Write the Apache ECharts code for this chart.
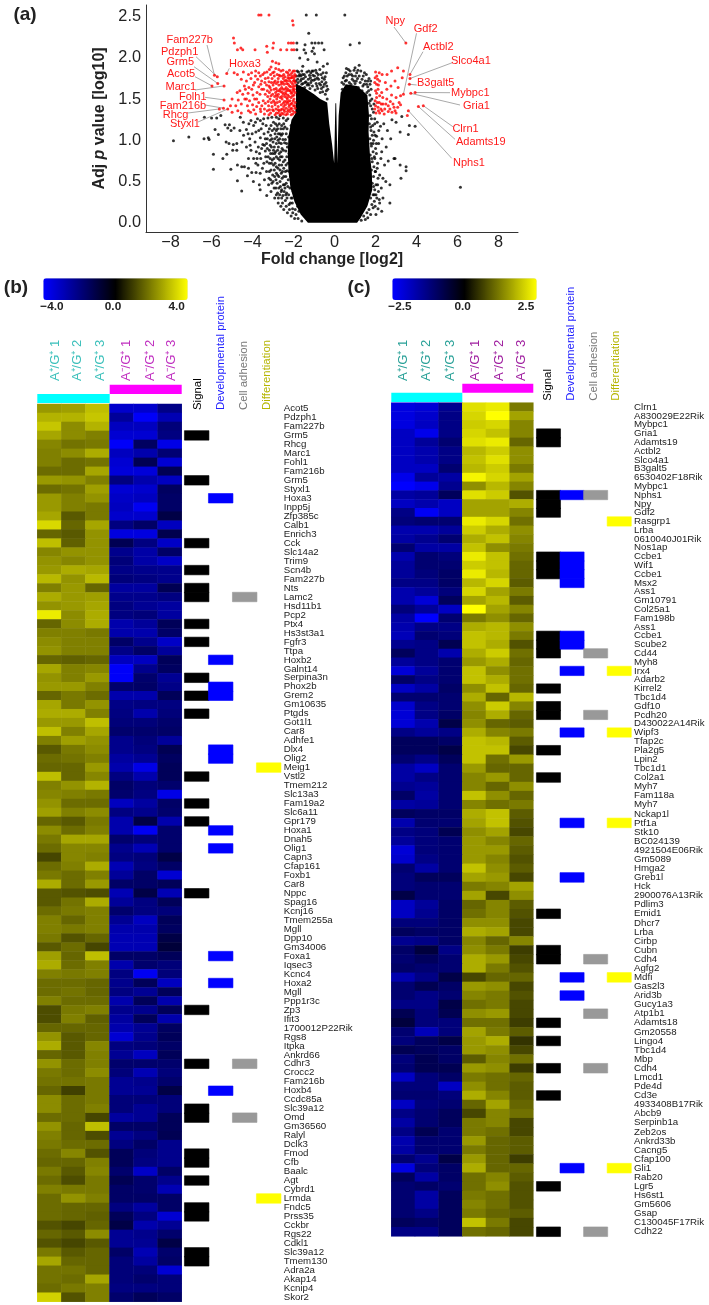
<!DOCTYPE html>
<html>
<head>
<meta charset="utf-8">
<title>Volcano plot and heatmaps</title>
<script src="https://cdn.jsdelivr.net/npm/echarts@6/dist/echarts.min.js"></script>
<style>
html, body { margin: 0; padding: 0; background: #fff; }
#chart { width: 709px; height: 1305px; }
</style>
</head>
<body>
<div id="chart"></div>
<script>
// ---- panel (a) data, [log2 fold change, adj p] ----
const xTicks = [-8, -6, -4, -2, 0, 2, 4, 6, 8];
const yTicks = [0, 0.5, 1, 1.5, 2, 2.5];

// outline of the part of the volcano where the dots merge into solid black
const solidOutline = [[-1.3,0],[-1.65,0.1],[-1.95,0.25],[-2.15,0.42],[-2.25,0.62],[-2.28,0.85],[-2.25,1.05],[-2.1,1.25],[-1.92,1.32],[-1.88,1.5],[-1.88,1.68],[-1.5,1.64],[-1.0,1.56],[-0.7,1.5],[-0.36,1.46],[-0.26,1.2],[-0.12,0.95],[-0.02,0.72],[0.04,1.45],[0.08,1.45],[0.14,0.72],[0.16,0.95],[0.2,1.3],[0.3,1.58],[0.55,1.68],[1.1,1.66],[1.6,1.55],[1.68,1.3],[1.66,1.1],[1.72,0.85],[1.82,0.6],[1.84,0.4],[1.6,0.2],[1.25,0.05],[1.1,0]];

const blackPoints = [
[-1.38,2.52],[-0.89,2.52],[0.5,2.52],[-1.26,2.3],[-1.84,2.18],[-1.44,2.16],[-1.49,2.1],[-1.84,2.1],[-1.11,2.18],[-0.95,2.18],[-1.03,2.12],[-0.62,2.18],[-0.78,2.18],[-1.1,2.08],[-0.98,2.05],[-0.51,2.1],[0.76,2.16],[1.21,2.18],[-1.41,2.06],
[-1.7,2.0],[-1.3,1.98],[-1.55,1.9],[-0.85,1.95],[-0.55,1.9],[-0.35,1.93],[-0.72,1.86],[-0.4,1.82],[-0.6,1.76],[-1.82,1.84],[-1.7,1.8],[-1.6,1.84],[-1.48,1.8],[-1.35,1.83],[-1.22,1.79],[-1.1,1.84],[-0.98,1.78],[-0.88,1.82],[-1.8,1.74],[-1.66,1.72],[-1.52,1.75],[-1.4,1.71],[-1.28,1.74],[-1.16,1.7],[-1.02,1.73],[-0.9,1.69],[-0.78,1.74],[-0.68,1.67],[-0.55,1.65],[-0.42,1.7],[-0.33,1.62],[-1.84,1.67],[-1.72,1.65],[-1.6,1.68],[-1.46,1.64],[-1.34,1.67],[-1.2,1.63],[-1.08,1.66],[-0.95,1.61],[-0.82,1.63],[-0.7,1.58],[-0.58,1.59],[-0.45,1.56],[-0.36,1.5],
[-1.86,1.78],[-1.76,1.83],[-1.64,1.78],[-1.54,1.69],[-1.42,1.77],[-1.3,1.69],[-1.18,1.76],[-1.06,1.79],[-0.94,1.74],[-0.84,1.76],[-0.74,1.69],[-0.62,1.71],[-0.5,1.74],[-0.38,1.66],[-1.78,1.7],[-1.62,1.74],[-1.44,1.7],[-1.24,1.67],[-1.12,1.73],[-0.86,1.66],[-0.64,1.63],[-0.5,1.68],[-0.4,1.6],[-1.9,1.72],[-1.74,1.78],[-1.56,1.8],[-1.26,1.84],[-1.04,1.84],[-0.8,1.8],[-0.56,1.82],[-0.46,1.77],[-1.16,1.82],[-0.92,1.85],[-0.66,1.8],
[0.42,1.76],[0.55,1.82],[0.68,1.86],[0.82,1.8],[0.95,1.85],[1.08,1.82],[1.2,1.91],[1.28,1.84],[1.4,1.78],[1.55,1.8],[1.68,1.75],[0.45,1.68],[0.58,1.73],[0.72,1.7],[0.86,1.74],[1.0,1.69],[1.12,1.75],[1.25,1.7],[1.38,1.66],[1.5,1.72],[1.62,1.65],[1.73,1.68],[0.5,1.6],[0.66,1.64],[0.9,1.63],[1.16,1.64],[1.34,1.6],[1.58,1.58],[1.72,1.55],
[0.36,1.7],[0.48,1.78],[0.62,1.78],[0.76,1.84],[0.88,1.78],[1.02,1.78],[1.14,1.85],[1.34,1.74],[1.46,1.82],[1.62,1.72],[0.38,1.62],[0.52,1.72],[0.8,1.68],[0.94,1.72],[1.06,1.72],[1.2,1.78],[1.44,1.68],[1.56,1.68],[1.66,1.6],[0.7,1.8],[1.0,1.88],[0.58,1.87],[1.78,1.62],[1.76,1.72],
[1.76,1.42],[1.68,1.45],[1.74,1.3],[1.7,1.2],[1.78,1.12],[1.72,1.02],[1.8,0.93],[1.74,0.82],[1.84,0.74],[1.8,0.64],[1.9,0.56],[1.84,0.48],[1.96,0.4],[1.88,0.34],[1.76,0.3],[1.94,0.26],[1.82,0.22],[1.68,0.16],[1.58,0.12],[1.42,0.08],[1.3,0.03],[1.22,0.08],
[1.82,1.5],[1.74,1.48],[1.84,1.38],[1.8,1.26],[1.86,1.18],[1.76,1.16],[1.84,1.06],[1.9,1.0],[1.78,0.96],[1.88,0.86],[1.94,0.8],[1.82,0.78],[1.92,0.68],[1.98,0.62],[1.9,0.44],[2.02,0.46],[1.94,0.34],[2.06,0.3],[1.88,0.18],[1.98,0.2],[1.76,0.1],[1.62,0.06],[1.5,0.04],[1.9,1.34],[1.96,1.2],[1.98,1.06],[2.04,0.96],[2.04,0.84],[2.08,0.66],[2.12,0.54],[2.14,0.38],[2.2,0.24],[1.92,1.44],
[1.96,1.26],[2.08,1.22],[2.24,1.17],[2.4,1.2],[2.58,1.12],[1.92,1.1],[2.05,1.05],[2.16,1.12],[2.32,1.02],[1.88,0.96],[2.0,0.9],[2.15,0.96],[2.3,0.86],[2.52,0.92],[2.74,1.02],[1.96,0.78],[2.1,0.72],[2.26,0.78],[2.44,0.7],[2.62,0.75],[2.9,0.78],[3.2,0.7],[3.49,0.68],[3.49,0.63],[2.0,0.62],[2.2,0.58],[2.36,0.54],[2.1,0.46],[2.28,0.42],[2.5,0.5],[2.7,0.46],[3.24,0.54],[2.02,0.34],[2.18,0.28],[2.36,0.3],[2.7,0.24],[2.12,0.17],[2.3,0.14],[2.02,0.1],[3.28,1.29],[3.93,1.17],[3.65,1.18],[3.6,1.07],[3.2,1.1],[2.95,0.78],[3.0,1.22],[2.8,1.25],[6.14,0.43],
[-7.86,0.995],[-7.11,1.04],[-6.37,1.02],[-6.16,1.03],[-6.12,1.01],[-5.91,0.83],[-5.91,0.65],[-5.83,1.13],[-5.67,1.07],[-5.45,0.78],[-5.26,0.83],[-5.29,0.98],[-5.15,0.96],[-5.34,1.19],[-5.13,1.19],[-5.21,1.15],[-5.05,1.12],[-4.9,1.15],[-4.94,0.95],[-4.77,0.96],[-4.97,0.88],[-4.77,0.88],[-5.06,0.65],[-4.74,0.51],[-4.53,0.385],[-4.74,0.7],[-4.53,0.68],[-4.4,0.68],[-4.2,0.66],[-4.25,0.57],[-3.96,0.5],[-4.04,0.61],[-3.83,0.61],[-3.63,0.6],[-3.67,0.46],[-3.63,0.4],[-3.31,0.33],[-6.0,1.27],[-5.75,1.27],[-5.55,1.3],[-6.35,1.28],
[-4.6,1.28],[-4.45,1.22],[-4.62,1.12],[-4.44,1.06],[-4.3,1.13],[-4.52,0.98],[-4.3,0.92],[-4.14,1.02],[-4.08,1.24],[-3.95,1.18],[-4.02,1.08],[-3.88,0.98],[-4.08,0.88],[-3.95,0.78],[-3.82,0.86],[-3.76,1.26],[-3.7,1.12],[-3.62,1.03],[-3.72,0.92],[-3.6,0.78],[-3.74,0.7],[-3.5,1.2],[-3.44,1.08],[-3.5,0.95],[-3.38,0.87],[-3.45,0.72],[-3.32,0.62],[-3.42,0.52],[-3.22,0.46],[-3.1,0.38],[-2.92,0.3],[-2.75,0.24],[-2.62,0.2],[-2.48,0.16],[-2.3,0.12],[-2.12,0.08],[-1.95,0.05],[-1.78,0.05],[-1.6,0.02],[-2.05,0.17],[-2.22,0.22],[-2.4,0.27],[-2.58,0.3],[-2.78,0.36],[-2.95,0.42],[-3.12,0.52],
[-3.25,1.27],[-3.18,1.14],[-3.28,1.02],[-3.14,0.94],[-3.24,0.8],[-3.08,0.72],[-3.18,0.62],[-3.02,0.58],[-2.98,1.22],[-2.9,1.08],[-3.0,0.98],[-2.88,0.86],[-2.96,0.78],[-2.84,0.68],[-2.92,0.56],[-2.8,0.48],[-2.72,1.26],[-2.78,1.14],[-2.68,1.02],[-2.74,0.92],[-2.64,0.8],[-2.7,0.7],[-2.6,0.6],[-2.66,0.5],[-2.58,0.4],[-2.48,1.2],[-2.54,1.08],[-2.44,0.97],[-2.5,0.88],[-2.42,0.76],[-2.48,0.66],[-2.38,0.56],[-2.44,0.46],[-2.34,0.36],[-2.28,1.26],[-2.32,1.14],[-2.24,1.04],[-2.3,0.92],[-2.22,0.84],[-2.28,0.72],[-2.2,0.62],[-2.26,0.52],[-2.18,0.42],[-2.12,0.3],[-2.12,1.18],[-2.08,1.08],[-2.14,0.98],[-2.08,0.88],[-2.12,0.78],[-2.1,0.66],[-2.14,0.56],
[-2.36,1.24],[-2.42,1.16],[-2.36,1.08],[-2.4,1.01],[-2.34,0.96],[-2.38,0.87],[-2.33,0.8],[-2.37,0.7],[-2.32,0.63],[-2.36,0.48],[-2.28,0.44],[-2.24,0.34],[-2.32,0.3],[-2.16,0.24],[-2.06,0.24],[-2.5,1.27],[-2.58,1.18],[-2.5,1.14],[-2.6,1.06],[-2.52,1.01],[-2.6,0.96],[-2.56,0.9],[-2.62,0.86],[-2.56,0.8],[-2.5,0.74],[-2.58,0.7],[-2.54,0.62],[-2.48,0.56],[-2.56,0.54],[-2.5,0.46],[-2.46,0.38],[-2.52,0.33],[-2.38,0.34],[-2.66,1.3],[-2.7,1.2],[-2.62,1.14],[-2.74,1.08],[-2.66,1.08],[-2.76,1.0],[-2.7,0.97],[-2.78,0.88],[-2.7,0.84],[-2.76,0.78],[-2.68,0.76],[-2.76,0.66],[-2.66,0.64],[-2.72,0.56],[-2.78,0.58],[-2.64,0.44],[-2.72,0.42],[-2.68,0.34],
[-2.84,1.28],[-2.88,1.2],[-2.8,1.18],[-2.84,1.12],[-2.94,1.14],[-2.82,1.04],[-2.92,1.02],[-2.84,0.96],[-2.94,0.92],[-2.84,0.8],[-2.92,0.84],[-2.98,0.88],[-2.9,0.72],[-2.98,0.7],[-2.84,0.6],[-2.94,0.64],[-2.86,0.52],[-3.0,0.5],[-2.86,0.42],[-2.84,0.34],[-3.06,1.28],[-3.1,1.18],[-3.04,1.12],[-3.12,1.06],[-3.06,1.02],[-3.14,1.0],[-3.08,0.92],[-3.02,0.84],[-3.12,0.84],[-3.18,0.88],[-3.04,0.76],[-3.14,0.78],[-3.1,0.64],[-3.06,0.48],[-3.18,0.72],[-3.28,0.9],[-3.24,1.1],[-3.34,1.18],[-3.38,1.02],[-3.32,0.96],[-3.3,0.74],[-3.2,0.54],[-3.36,0.8],[-3.42,0.94],[-3.46,1.26],[-3.58,1.14],[-3.56,0.9],[-3.52,0.66],[-3.62,1.24],[-3.84,1.1],[-3.86,1.22],[-3.66,0.84],[-3.78,0.78],[-3.84,0.72],[-4.18,1.2],[-4.22,1.08],[-4.12,0.94],[-4.2,0.78],
[-2.06,0.3],[-2.02,0.38],[-2.4,0.62],[-2.42,0.42],[-2.6,0.38],[-2.74,0.3],[-2.54,0.24],[-2.36,0.2],[-2.2,0.16],[-2.04,0.12],[-1.88,0.1],[-1.74,0.14],[-1.8,0.2],[-1.92,0.16]
];

const redPoints = [
[-3.7,2.52],[-3.59,2.52],[-3.2,2.52],[-2.05,2.45],[-2.02,2.4],[-4.93,2.24],[-4.89,2.18],[-4.74,2.1],[-4.57,2.12],[-4.48,2.1],[-3.88,2.1],[-3.31,2.14],[-3.28,2.07],[-2.98,2.18],[-3.01,2.12],[-2.63,2.1],[-2.25,2.18],[-2.01,2.18],[-2.12,2.18],[-2.33,2.1],[-2.09,2.1],[-1.98,2.1],
[-3.03,1.96],[-2.86,1.94],[-3.1,1.89],[-2.87,1.87],[-2.72,1.93],[-4.9,1.82],[-4.74,1.8],[-4.45,1.83],[-4.2,1.8],[-3.85,1.84],[-3.7,1.82],[-3.5,1.8],[-3.3,1.83],[-3.12,1.8],[-2.95,1.83],[-2.8,1.8],[-2.62,1.84],[-2.48,1.8],[-2.35,1.83],[-2.2,1.85],[-2.08,1.82],[-1.95,1.84],
[-4.55,1.74],[-4.3,1.72],[-4.08,1.75],[-3.9,1.7],[-3.75,1.74],[-3.56,1.72],[-3.38,1.75],[-3.2,1.71],[-3.05,1.75],[-2.9,1.72],[-2.75,1.75],[-2.6,1.71],[-2.5,1.75],[-2.38,1.73],[-2.28,1.76],[-2.18,1.72],[-2.08,1.76],[-1.97,1.73],[-1.92,1.78],
[-4.4,1.66],[-4.18,1.64],[-3.96,1.67],[-3.7,1.65],[-3.55,1.62],[-3.32,1.67],[-3.15,1.64],[-3.0,1.67],[-2.85,1.63],[-2.72,1.67],[-2.58,1.64],[-2.46,1.68],[-2.36,1.64],[-2.26,1.68],[-2.14,1.65],[-2.04,1.68],[-1.94,1.66],[-1.92,1.7],[-2.2,1.6],[-2.32,1.6],
[-4.75,1.58],[-4.48,1.56],[-4.22,1.57],[-3.98,1.55],[-3.78,1.58],[-3.18,1.58],[-3.02,1.56],[-2.88,1.58],[-2.74,1.56],[-2.62,1.59],[-2.5,1.56],[-2.4,1.58],[-2.12,1.57],[-2.0,1.6],[-1.93,1.58],[-2.05,1.54],[-2.22,1.53],[-2.34,1.52],
[-5.0,1.5],[-4.7,1.49],[-4.55,1.44],[-4.38,1.5],[-4.15,1.48],[-3.9,1.5],[-3.7,1.46],[-3.15,1.5],[-2.98,1.48],[-2.82,1.5],[-2.68,1.47],[-2.56,1.5],[-2.45,1.47],[-2.3,1.45],[-2.18,1.48],[-2.08,1.45],[-1.98,1.5],[-1.93,1.46],[-2.6,1.43],[-2.75,1.41],
[-5.08,1.42],[-4.82,1.42],[-4.25,1.42],[-4.0,1.43],[-3.8,1.41],[-3.55,1.42],[-3.38,1.45],[-3.22,1.42],[-3.05,1.41],[-2.9,1.43],[-2.48,1.41],[-2.36,1.39],[-2.22,1.41],[-2.1,1.39],[-2.0,1.42],[-1.93,1.39],
[-5.0,1.34],[-4.55,1.33],[-4.1,1.34],[-3.85,1.32],[-3.6,1.35],[-3.42,1.32],[-3.28,1.36],[-3.12,1.33],[-2.98,1.36],[-2.84,1.33],[-2.7,1.36],[-2.58,1.33],[-2.44,1.35],[-2.3,1.32],[-2.18,1.35],[-2.04,1.32],[-1.94,1.34],[-2.12,1.31],[-2.38,1.31],[-2.64,1.31],[-2.9,1.31],[-3.2,1.31],[-1.98,1.55],[-2.03,1.62],[-2.15,1.8],[-2.25,1.79],[-2.42,1.77],[-2.55,1.78],[-2.7,1.79],[-2.28,1.55],[-2.42,1.62],[-2.52,1.62],[-2.65,1.52],[-2.78,1.53],[-2.92,1.53],[-2.3,1.5],[-2.12,1.52],[-2.55,1.38],[-2.75,1.37],[-2.25,1.37],[-2.12,1.44],[-2.4,1.43],[-1.98,1.76],[-2.1,1.7],[-2.22,1.75],[-2.34,1.69],[-2.44,1.72],[-2.6,1.68],[-2.76,1.71],[-2.05,1.78],[-2.2,1.66],[-2.0,1.72],
[-3.4,1.7],[-3.62,1.78],[-3.24,1.76],[-3.08,1.7],[-2.94,1.78],[-2.84,1.69],[-2.66,1.78],[-2.54,1.7],[-2.3,1.72],[-3.46,1.62],[-3.28,1.6],[-3.1,1.61],[-2.95,1.62],[-2.8,1.6],[-2.66,1.62],[-2.54,1.58],[-2.44,1.53],[-2.36,1.47],[-2.5,1.45],[-2.2,1.43],[-2.02,1.48],[-2.14,1.38],[-2.04,1.36],[-1.96,1.42],[-2.3,1.35],[-2.46,1.37],[-2.62,1.37],[-2.8,1.46],[-2.92,1.46],[-3.08,1.46],[-3.24,1.47],[-3.48,1.48],[-3.42,1.38],[-3.18,1.37],[-3.02,1.37],[-2.86,1.38],[-2.74,1.33],[-2.5,1.32],[-2.26,1.47],[-2.16,1.6],[-2.08,1.58],[-1.96,1.62],[-2.02,1.65],[-2.28,1.62],[-2.38,1.56],[-2.58,1.53],[-2.7,1.6],[-2.84,1.55],[-3.1,1.54],[-3.26,1.53],[-2.96,1.7],[-3.2,1.66],[-3.38,1.56],[-3.64,1.56],[-3.8,1.5],[-4.04,1.62],[-4.3,1.5],[-4.35,1.62],[-3.62,1.38],[-3.94,1.37],[-4.2,1.36],[-4.72,1.36],[-4.62,1.6],[-4.05,1.82],[-3.6,1.68],[-3.86,1.78],[-3.42,1.82],[-3.18,1.86],[-3.02,1.82],[-2.72,1.86],[-2.52,1.85],[-2.28,1.82],[-2.14,1.76],[-1.94,1.8],[-2.02,1.84],
[2.0,1.83],[2.18,1.82],[2.32,1.8],[2.56,1.8],[2.78,1.84],[3.08,1.88],[3.36,1.84],[1.98,1.76],[2.1,1.74],[2.05,1.68],[2.2,1.72],[2.48,1.7],[2.95,1.72],[3.3,1.76],[2.0,1.6],[2.12,1.62],[2.3,1.58],[2.55,1.62],[2.75,1.66],[3.1,1.64],[2.05,1.52],[2.18,1.46],[2.35,1.52],[2.55,1.5],[2.78,1.55],[3.0,1.52],[3.22,1.54],[2.0,1.42],[2.12,1.4],[2.28,1.44],[2.45,1.38],[2.62,1.42],[2.85,1.44],[3.08,1.4],[3.22,1.43],[2.02,1.33],[2.2,1.33],[2.42,1.32],[2.62,1.35],[2.95,1.36],[3.15,1.46],[3.0,1.33],[3.55,1.3],[2.72,1.47],[1.98,1.48],[2.32,1.36],[2.5,1.44],
[2.06,1.78],[2.14,1.67],[1.96,1.7],[2.08,1.46],[2.2,1.54],[2.14,1.36],[2.36,1.44],[2.26,1.38],[1.96,1.38],[2.05,1.57],[2.7,1.38],[2.9,1.4],[2.8,1.34]
];

const calloutGenes = ['Fam227b', 'Pdzph1', 'Grm5', 'Acot5', 'Marc1', 'Folh1', 'Fam216b', 'Rhcg', 'Styxl1', 'Hoxa3', 'Npy', 'Gdf2', 'Actbl2', 'Slco4a1', 'B3galt5', 'Mybpc1', 'Gria1', 'Clrn1', 'Adamts19', 'Nphs1'];
const calloutFc = [-5.86, -5.72, -5.7, -5.98, -5.39, -5.39, -5.42, -5.62, -5.21, -5.26, 3.48, 3.36, 3.68, 3.68, 3.65, 3.93, 3.72, 4.33, 4.09, 3.6];
const calloutP = [1.79, 1.77, 1.69, 1.66, 1.66, 1.49, 1.39, 1.38, 1.38, 1.81, 2.18, 1.56, 1.8, 1.75, 1.68, 1.58, 1.57, 1.42, 1.41, 1.36];

// ---- panel (b) data ----
const genesB = ['Acot5','Pdzph1','Fam227b','Grm5','Rhcg','Marc1','Fohl1','Fam216b','Grm5','Styxl1','Hoxa3','Inpp5j','Zfp385c','Calb1','Enrich3','Cck','Slc14a2','Trim9','Scn4b','Fam227b','Nts','Lamc2','Hsd11b1','Pcp2','Ptx4','Hs3st3a1','Fgfr3','Ttpa','Hoxb2','Galnt14','Serpina3n','Phox2b','Grem2','Gm10635','Ptgds','Got1l1','Car8','Adhfe1','Dlx4','Olig2','Meig1','Vstl2','Tmem212','Slc13a3','Fam19a2','Slc6a11','Gpr179','Hoxa1','Dnah5','Olig1','Capn3','Cfap161','Foxb1','Car8','Nppc','Spag16','Kcnj16','Tmem255a','Mgll','Dpp10','Gm34006','Foxa1','Iqsec3','Kcnc4','Hoxa2','Mgll','Ppp1r3c','Zp3','Ifit3','1700012P22Rik','Rgs8','Itpka','Ankrd66','Cdhr3','Crocc2','Fam216b','Hoxb4','Ccdc85a','Slc39a12','Omd','Gm36560','Ralyl','Dclk3','Fmod','Cfb','Baalc','Agt','Cybrd1','Lrmda','Fndc5','Prss35','Cckbr','Rgs22','Cdkl1','Slc39a12','Tmem130','Adra2a','Akap14','Kcnip4','Skor2'];
const heatB = [
[2.4,2.5,3.0,-3.2,-3.2,-2.1],[2.8,2.8,3.1,-2.4,-3.9,-2.8],[3.1,2.2,2.8,-3.0,-3.0,-1.9],[2.6,2.2,2.0,-3.3,-3.3,-2.0],[2.1,1.8,1.9,-3.9,-1.5,-3.6],[2.0,2.2,2.7,-3.0,-2.7,-1.8],[2.0,1.7,1.8,-3.3,-1.3,-3.3],[1.7,1.7,2.6,-3.4,-3.4,-1.3],[2.4,2.3,2.0,-2.0,-2.7,-3.0],[1.7,1.8,2.5,-3.3,-3.2,-1.5],
[2.4,2.0,2.3,-3.1,-3.0,-1.6],[2.4,2.0,1.9,-3.0,-3.8,-1.6],[2.6,1.4,1.9,-3.2,-3.2,-1.1],[3.4,1.6,2.6,-2.0,-1.6,-3.0],[1.6,1.4,2.3,-3.5,-3.5,-1.2],[3.0,1.5,2.3,-1.3,-2.0,-3.1],[2.1,2.3,2.3,-2.2,-2.6,-1.6],[2.3,2.1,2.3,-1.9,-2.6,-3.1],[2.4,2.7,2.6,-2.1,-2.2,-2.2],[2.9,2.3,2.9,-1.9,-2.0,-2.2],
[2.0,2.4,1.6,-2.5,-2.5,-1.3],[2.7,2.4,2.5,-2.2,-2.2,-2.0],[2.3,2.4,2.6,-2.0,-2.3,-2.5],[3.7,2.2,2.7,-2.0,-1.9,-2.5],[1.6,2.2,2.7,-2.7,-2.4,-1.4],[2.0,2.0,1.9,-2.7,-2.7,-1.6],[2.2,2.0,2.0,-1.6,-2.2,-3.1],[2.3,2.0,2.0,-2.1,-1.6,-2.4],[1.6,1.5,1.6,-3.0,-3.0,-1.4],[2.6,2.0,2.1,-3.9,-2.2,-1.5],
[2.3,2.0,2.4,-3.9,-1.7,-2.3],[2.4,2.4,2.0,-1.7,-1.6,-2.1],[1.6,1.9,1.7,-2.7,-2.7,-1.4],[2.6,1.9,2.3,-2.1,-2.0,-2.0],[2.7,2.7,2.0,-2.0,-2.7,-1.9],[2.4,2.4,3.0,-1.9,-1.9,-1.7],[3.0,2.0,2.6,-1.7,-1.7,-1.6],[2.0,2.5,2.3,-2.2,-1.9,-2.4],[1.4,1.9,2.2,-2.2,-2.0,-1.3],[1.7,1.8,2.0,-2.5,-2.3,-1.5],
[1.6,1.6,2.4,-2.7,-3.6,-1.4],[3.0,1.6,2.1,-2.0,-2.7,-1.4],[2.0,2.3,2.8,-1.6,-1.9,-1.7],[2.1,2.0,1.9,-1.7,-2.0,-3.6],[2.3,1.7,1.7,-3.0,-2.5,-1.6],[2.5,2.0,2.2,-2.0,-2.2,-1.7],[1.6,1.4,1.9,-2.7,-1.1,-2.7],[2.2,1.7,2.0,-2.7,-3.8,-1.7],[1.9,2.6,2.6,-1.7,-1.9,-1.7],[1.7,2.1,2.1,-2.2,-2.8,-1.7],
[1.1,2.1,2.0,-2.0,-1.9,-1.1],[1.7,2.0,2.7,-2.8,-2.0,-1.6],[1.9,1.7,2.0,-2.4,-1.6,-3.3],[2.7,1.7,2.4,-1.6,-1.6,-1.4],[1.4,1.3,1.2,-2.8,-1.1,-2.8],[1.4,1.8,2.7,-2.4,-2.0,-1.4],[1.7,1.9,2.0,-1.7,-2.0,-1.9],[2.0,1.6,2.0,-2.3,-3.0,-1.4],[2.0,1.9,2.0,-2.7,-2.7,-1.5],[1.9,1.3,1.6,-2.8,-2.8,-1.1],
[1.4,1.7,1.1,-2.8,-2.8,-0.9],[2.5,1.6,3.0,-1.6,-1.6,-1.4],[2.7,1.7,2.0,-2.7,-1.7,-1.9],[2.0,1.9,2.0,-2.0,-3.8,-1.9],[1.7,1.7,1.6,-2.2,-1.4,-3.0],[1.7,1.8,1.6,-2.0,-2.3,-1.4],[2.0,1.7,1.7,-2.7,-1.4,-2.7],[1.2,1.9,2.0,-2.2,-2.2,-1.4],[1.2,2.0,1.5,-2.5,-1.4,-2.7],[1.6,1.6,1.6,-2.7,-2.3,-1.5],
[2.3,1.4,1.6,-3.3,-2.2,-1.4],[2.7,1.4,2.1,-2.0,-1.9,-1.6],[1.6,1.4,2.0,-2.3,-3.0,-1.4],[2.3,1.7,2.0,-1.7,-1.7,-1.7],[1.9,1.7,2.2,-1.9,-2.8,-1.9],[1.8,1.8,1.9,-2.3,-2.2,-1.7],[1.6,1.0,1.9,-2.3,-2.3,-1.1],[2.2,1.7,1.9,-1.9,-1.9,-1.9],[2.2,1.7,2.0,-1.9,-2.3,-1.9],[1.7,1.7,1.1,-2.5,-2.3,-1.4],
[2.3,1.6,3.0,-1.6,-1.6,-1.4],[2.0,1.6,1.2,-2.3,-2.0,-1.3],[1.9,1.7,1.7,-2.0,-1.6,-2.2],[1.7,2.1,1.3,-1.4,-1.9,-2.2],[1.6,1.6,2.0,-1.4,-2.0,-2.2],[1.9,1.4,2.1,-1.7,-3.1,-1.6],[1.7,1.2,1.9,-1.3,-1.7,-2.2],[2.0,1.9,1.9,-1.6,-1.7,-2.8],[1.7,2.3,2.0,-1.6,-1.6,-1.6],[1.7,1.6,1.6,-2.0,-2.5,-1.6],
[1.7,1.6,1.5,-1.4,-2.0,-3.3],[1.3,1.1,1.6,-1.1,-2.7,-2.3],[1.6,1.4,2.2,-2.3,-2.2,-1.7],[1.3,1.1,1.4,-2.3,-2.3,-1.1],[1.9,1.4,1.6,-1.6,-2.8,-1.7],[2.6,1.6,1.6,-1.9,-2.5,-1.6],[1.8,1.8,1.6,-1.9,-1.9,-3.3],[1.8,1.7,2.6,-1.9,-1.7,-1.9],[1.7,1.9,2.0,-2.0,-2.0,-1.9],[3.3,1.3,2.0,-1.7,-1.4,-1.6]
];
const signalB = [3, 8, 15, 18, 20, 21, 24, 26, 30, 32, 34, 41, 44, 46, 54, 67, 73, 78, 79, 83, 84, 86, 89, 90, 94, 95];
const devProteinB = [10, 28, 31, 32, 38, 39, 47, 49, 61, 64, 76];
const cellAdhesionB = [21, 73, 79];
const differentiationB = [40, 88];

// ---- panel (c) data ----
const genesC = ['Clrn1','A830029E22Rik','Mybpc1','Gria1','Adamts19','Actbl2','Slco4a1','B3galt5','6530402F18Rik','Mybpc1','Nphs1','Npy','Gdf2','Rasgrp1','Lrba','0610040J01Rik','Nos1ap','Ccbe1','Wif1','Ccbe1','Msx2','Ass1','Gm10791','Col25a1','Fam198b','Ass1','Ccbe1','Scube2','Cd44','Myh8','Irx4','Adarb2','Kirrel2','Tbc1d4','Gdf10','Pcdh20','D430022A14Rik','Wipf3','Tfap2c','Pla2g5','Lpin2','Tbc1d1','Col2a1','Myh7','Fam118a','Myh7','Nckap1l','Ptf1a','Stk10','BC024139','4921504E06Rik','Gm5089','Hmga2','Greb1l','Hck','2900076A13Rik','Pdlim3','Emid1','Dhcr7','Lrba','Cirbp','Cubn','Cdh4','Agfg2','Mdfi','Gas2l3','Arid3b','Gucy1a3','Atp1b1','Adamts18','Gm20558','Lingo4','Tbc1d4','Mbp','Cdh4','Lmcd1','Pde4d','Cd3e','4933408B17Rik','Abcb9','Serpinb1a','Zeb2os','Ankrd33b','Cacng5','Cfap100','Gli1','Rab20','Lgr5','Hs6st1','Gm5606','Gsap','C130045F17Rik','Cdh22'];
const heatC = [
[-2.2,-2.1,-1.4,2.2,2.3,1.2],[-2.2,-2.0,-1.3,2.1,2.5,1.6],[-2.2,-1.9,-1.3,2.0,2.1,1.3],[-1.9,-2.3,-1.3,2.1,1.9,1.3],[-1.9,-1.5,-1.1,2.2,2.3,1.0],[-1.9,-1.7,-1.3,1.8,2.0,1.4],[-1.9,-1.7,-1.3,1.9,2.2,1.4],[-1.9,-1.9,-1.1,1.8,2.0,1.2],[-2.3,-1.5,-1.6,2.4,2.1,1.6],[-2.5,-2.3,-1.4,1.4,1.8,1.3],
[-1.6,-1.5,-0.9,2.2,2.0,0.8],[-1.9,-1.7,-1.9,1.6,1.6,1.7],[-1.3,-2.4,-1.9,1.6,1.6,1.3],[-1.2,-1.1,-1.1,2.3,2.1,1.1],[-1.7,-1.7,-1.5,2.0,1.7,1.4],[-1.6,-1.4,-1.1,1.7,1.9,1.3],[-1.1,-1.6,-1.6,1.9,1.4,1.2],[-1.7,-1.1,-1.2,2.3,1.9,1.1],[-1.5,-1.1,-1.1,2.0,1.9,1.0],[-1.5,-1.2,-1.0,2.3,1.8,1.0],
[-1.3,-1.3,-1.0,1.8,2.1,0.9],[-1.7,-1.5,-1.2,2.1,1.6,1.2],[-1.7,-2.1,-0.9,1.6,1.8,0.9],[-1.2,-1.5,-1.9,2.5,1.6,1.3],[-1.6,-2.5,-1.1,1.2,1.4,1.0],[-1.7,-1.3,-1.3,1.7,1.8,1.4],[-1.8,-1.1,-1.2,1.9,1.8,1.2],[-1.4,-1.3,-0.8,1.9,1.7,0.8],[-0.9,-1.3,-1.7,1.7,2.0,1.1],[-1.5,-1.3,-1.1,1.5,1.7,1.0],
[-2.1,-1.5,-1.1,1.9,1.4,1.1],[-1.0,-1.3,-1.1,1.9,1.7,1.1],[-1.9,-1.6,-1.0,1.4,1.9,1.0],[-1.1,-1.1,-1.1,1.7,1.0,1.8],[-2.0,-1.3,-1.1,1.4,2.0,1.3],[-2.1,-1.3,-1.0,1.3,1.7,1.0],[-2.1,-1.7,-0.7,1.4,1.0,0.9],[-1.3,-1.5,-1.3,1.7,1.3,1.2],[-0.9,-0.9,-1.0,1.9,1.8,0.9],[-0.9,-0.9,-0.7,1.9,1.9,0.7],
[-1.1,-1.3,-0.9,1.9,1.1,1.5],[-1.6,-1.9,-1.1,1.5,1.0,1.0],[-1.6,-1.3,-1.1,1.3,1.5,1.0],[-1.4,-1.5,-1.1,1.3,1.0,1.4],[-1.0,-1.6,-1.1,1.9,1.4,1.0],[-1.6,-1.5,-1.1,1.3,1.1,1.2],[-0.9,-1.0,-1.0,1.7,1.9,0.9],[-1.7,-1.1,-1.1,1.6,1.9,0.8],[-1.3,-1.2,-0.8,1.4,1.6,0.7],[-1.5,-1.2,-1.1,1.5,1.3,1.0],
[-2.1,-1.2,-1.1,1.5,1.5,0.9],[-2.0,-1.3,-1.1,1.5,1.3,0.8],[-1.1,-1.6,-1.1,1.9,1.4,0.9],[-1.2,-0.9,-0.9,1.6,1.5,0.7],[-1.2,-1.1,-1.1,1.2,1.3,1.6],[-0.7,-1.1,-1.1,1.6,0.7,1.4],[-1.9,-1.5,-1.0,1.0,1.3,0.9],[-1.9,-1.4,-1.0,1.1,1.3,0.8],[-1.2,-1.2,-1.0,1.4,1.4,0.7],[-0.9,-1.0,-1.0,1.7,1.6,0.7],
[-1.4,-1.3,-1.0,1.3,1.0,1.3],[-1.0,-0.6,-1.3,1.4,1.2,0.6],[-1.1,-0.9,-1.1,1.7,1.5,0.7],[-1.0,-1.1,-1.1,1.7,1.2,0.8],[-1.7,-1.3,-0.7,0.7,1.0,1.0],[-1.1,-0.8,-1.0,1.5,1.4,0.7],[-1.1,-1.3,-1.1,1.3,1.2,0.8],[-1.3,-1.3,-0.7,1.1,1.2,0.7],[-0.8,-1.2,-0.8,1.4,1.5,0.7],[-0.6,-1.2,-1.2,1.1,1.1,0.6],
[-1.1,-1.8,-1.2,1.6,1.2,0.9],[-1.2,-0.9,-0.7,1.5,1.7,0.5],[-0.8,-0.9,-1.0,1.5,1.4,0.7],[-1.2,-0.8,-1.0,0.9,1.3,1.1],[-1.1,-0.8,-0.8,1.5,1.4,0.6],[-1.9,-1.2,-1.0,1.2,1.1,1.0],[-1.2,-1.2,-1.9,1.4,1.1,0.9],[-1.1,-1.1,-1.2,1.7,1.3,0.9],[-1.9,-1.2,-1.1,1.0,1.6,1.0],[-1.3,-1.1,-0.9,0.7,1.3,1.1],
[-1.6,-1.1,-0.9,1.2,1.3,0.7],[-1.3,-0.8,-1.1,1.2,1.1,0.7],[-1.7,-1.1,-1.1,1.5,1.0,0.9],[-1.6,-1.1,-1.1,1.2,1.0,0.9],[-1.1,-1.4,-0.7,1.5,1.0,0.6],[-2.2,-1.2,-1.0,1.7,1.0,1.0],[-0.9,-1.6,-1.0,1.1,1.3,0.9],[-1.1,-1.0,-1.1,1.1,1.4,0.8],[-1.1,-1.6,-0.9,1.2,1.1,0.8],[-1.1,-1.6,-0.9,1.3,1.1,0.8],
[-1.1,-1.3,-0.9,1.2,1.0,0.9],[-0.9,-1.0,-0.9,1.9,1.2,0.7],[-1.3,-1.3,-0.9,1.1,1.0,0.7]
];
const signalC = [3, 4, 10, 11, 12, 17, 18, 19, 26, 27, 28, 32, 34, 35, 39, 42, 57, 61, 62, 69, 71, 74, 77, 87, 92];
const devProteinC = [10, 17, 18, 19, 20, 26, 27, 30, 37, 47, 53, 64, 66, 85];
const cellAdhesionC = [10, 28, 35, 62, 68, 74, 92];
const differentiationC = [13, 30, 37, 47, 64, 85];

const sampleLabels = ['A⁺/G⁺ 1', 'A⁺/G⁺ 2', 'A⁺/G⁺ 3', 'A⁻/G⁺ 1', 'A⁻/G⁺ 2', 'A⁻/G⁺ 3'];
const annotationColumns = ['Signal', 'Developmental protein', 'Cell adhesion', 'Differentiation'];

// ---- layout ----
const FONT = '"Liberation Sans", Arial, sans-serif';
const RED = '#ff1a1a';
const annotationColors = ['#000000', '#0000ff', '#999999', '#ffff00'];
const heatColors = ['#0000ff', '#000000', '#ffff00'];

// text left, text middle, line start x, line start y
const calloutLayout = [
  [166.5, 40, 207, 45], [161, 52, 196, 56.7], [166.5, 62, 194, 66.7], [167, 74, 195, 76.7],
  [165.5, 87.3, 195, 90], [179, 97, 205, 97.3], [159.7, 106, 205, 105], [162.8, 115, 188, 113],
  [170, 124, 198, 122], [229, 64, 229.3, 68.3], [385.5, 20.7, 394, 27], [413.8, 29.3, 416.5, 33.3],
  [423, 47.3, 423, 51.7], [451, 60.7, 452.3, 62.7], [417, 83, 416.7, 85], [451, 93.3, 450, 92.7],
  [463, 105.7, 460, 105], [452.4, 128.7, 453.3, 127], [456, 142.3, 455, 139.3], [453, 163, 451.7, 158.3]
];

const grids = [];
const xAxes = [];
const yAxes = [];
const series = [];
const visualMaps = [];

// volcano grid
grids.push({ left: 146, top: 5, width: 372, height: 227 });
xAxes.push({
  type: 'value', gridIndex: 0, min: -9.2, max: 8.95, splitLine: { show: false },
  name: 'Fold change [log2]', nameLocation: 'middle', nameGap: 20,
  nameTextStyle: { fontFamily: FONT, fontWeight: 'bold', fontSize: 16, color: '#222' },
  axisLine: { onZero: false, lineStyle: { color: '#333', width: 1 } },
  axisTick: { show: false },
  axisLabel: {
    customValues: xTicks, margin: 3, fontFamily: FONT, fontSize: 16.3, color: '#222',
    formatter: v => String(v).replace('-', '−')
  }
});
yAxes.push({
  type: 'value', gridIndex: 0, min: -0.113, max: 2.642, splitLine: { show: false },
  name: 'Adj {i|p} value [log10]', nameLocation: 'middle', nameGap: 35, nameRotate: 90,
  nameTextStyle: {
    fontFamily: FONT, fontWeight: 'bold', fontSize: 16, color: '#222',
    rich: { i: { fontFamily: FONT, fontWeight: 'bold', fontStyle: 'italic', fontSize: 16, color: '#222' } }
  },
  axisLine: { onZero: false, lineStyle: { color: '#333', width: 1 } },
  axisTick: { show: false },
  axisLabel: {
    customValues: yTicks, margin: 5, fontFamily: FONT, fontSize: 16.3, color: '#222',
    formatter: v => v.toFixed(1)
  }
});

series.push({
  type: 'custom', xAxisIndex: 0, yAxisIndex: 0, silent: true, z: 2,
  coordinateSystem: 'cartesian2d',
  data: solidOutline,
  encode: { x: 0, y: 1 },
  renderItem: (params, api) => {
    if (params.dataIndex !== 0) return null;
    return {
      type: 'polygon',
      shape: { points: solidOutline.map(p => api.coord(p)) },
      style: { fill: '#000' }
    };
  }
});
series.push({
  type: 'scatter', xAxisIndex: 0, yAxisIndex: 0, data: blackPoints, symbolSize: 3, silent: true, z: 3,
  itemStyle: { color: '#000' }, animation: false
});
series.push({
  type: 'scatter', xAxisIndex: 0, yAxisIndex: 0, data: redPoints, symbolSize: 3, silent: true, z: 4,
  itemStyle: { color: '#ff0000' }, animation: false
});
series.push({
  type: 'scatter', xAxisIndex: 0, yAxisIndex: 0, symbolSize: 3, silent: true, z: 6,
  data: calloutGenes.map((g, i) => [calloutFc[i], calloutP[i]]),
  itemStyle: { color: '#ff0000' }, animation: false
});
series.push({
  type: 'custom', xAxisIndex: 0, yAxisIndex: 0, silent: true, z: 5,
  coordinateSystem: 'cartesian2d',
  data: calloutGenes.map((g, i) => [calloutFc[i], calloutP[i]]),
  encode: { x: 0, y: 1 },
  renderItem: (params, api) => {
    const i = params.dataIndex;
    const pt = api.coord([calloutFc[i], calloutP[i]]);
    const pos = calloutLayout[i];
    return {
      type: 'group',
      children: [
        { type: 'line', shape: { x1: pos[2], y1: pos[3], x2: pt[0], y2: pt[1] }, style: { stroke: '#aaa', lineWidth: 1 } },
        {
          type: 'text', x: pos[0], y: pos[1],
          style: { text: calloutGenes[i], fill: RED, fontSize: 11, fontFamily: FONT, textAlign: 'left', textVerticalAlign: 'middle' }
        }
      ]
    };
  }
});

// one stack of heatmap + annotation columns, rows from..to share one grid
function addHeatBlock(genes, heat, annot, range, from, to, heatBox, annotBox, top, bottom) {
  const g = grids.length;
  grids.push({ left: heatBox[0], top: top, width: heatBox[1] - heatBox[0], height: bottom - top });
  grids.push({ left: annotBox[0], top: top, width: annotBox[1] - annotBox[0], height: bottom - top });
  const rows = genes.slice(from, to);
  xAxes.push({ type: 'category', gridIndex: g, show: false, data: sampleLabels });
  xAxes.push({ type: 'category', gridIndex: g + 1, show: false, data: annotationColumns });
  yAxes.push({ type: 'category', gridIndex: g, show: false, inverse: true, data: rows });
  yAxes.push({
    type: 'category', gridIndex: g + 1, inverse: true, position: 'right', data: rows,
    axisLine: { show: false }, axisTick: { show: false }, splitLine: { show: false },
    axisLabel: {
      interval: 0, margin: 3, fontFamily: FONT, fontSize: 9.7, color: '#222', align: 'left',
      padding: [0, 0, 2, 0]
    }
  });
  const cells = [];
  for (let r = from; r < to; r++) {
    heat[r].forEach((v, c) => cells.push([c, r - from, v]));
  }
  visualMaps.push({
    type: 'continuous', show: false, seriesIndex: series.length, min: -range, max: range,
    inRange: { color: heatColors }
  });
  series.push({
    type: 'heatmap', xAxisIndex: g, yAxisIndex: g, data: cells, silent: true, progressive: 0, animation: false
  });
  annot.forEach((list, c) => {
    series.push({
      type: 'heatmap', xAxisIndex: g + 1, yAxisIndex: g + 1, silent: true, animation: false,
      itemStyle: { color: annotationColors[c], borderColor: annotationColors[c], borderWidth: 0.6 },
      data: list.filter(r => r >= from && r < to).map(r => [c, r - from, 1])
    });
  });
}

addHeatBlock(genesB, heatB, [signalB, devProteinB, cellAdhesionB, differentiationB], 4, 0, 100,
  [37.3, 181.7], [184.7, 280.7], 404, 1301.7);
addHeatBlock(genesC, heatC, [signalC, devProteinC, cellAdhesionC, differentiationC], 2.5, 0, 39,
  [391.3, 533.3], [536.7, 631], 402.7, 745.7);
addHeatBlock(genesC, heatC, [signalC, devProteinC, cellAdhesionC, differentiationC], 2.5, 39, 93,
  [391.3, 533.3], [536.7, 631], 745.7, 1236.3);

// colour bars are visualMap controllers
function colorBar(left, range, seriesIdx) {
  return {
    type: 'continuous', show: true, orient: 'horizontal', left: left, top: 278.3, padding: 0,
    itemWidth: 21.7, itemHeight: 144.4, min: -range, max: range, text: null, calculable: false,
    realtime: false, hoverLink: false, seriesIndex: seriesIdx, showLabel: false, handleStyle: { opacity: 0 },
    indicatorStyle: { opacity: 0 }, inRange: { color: heatColors }, formatter: () => '', textStyle: { fontSize: 0 }
  };
}
visualMaps.push(colorBar(43.3, 4, 5));
visualMaps.push(colorBar(392.3, 2.5, 10));

// ---- text and header bars ----
function txt(text, x, y, color, size, weight, rot, align) {
  return {
    type: 'text', x: x, y: y, rotation: rot || 0, silent: true,
    style: {
      text: text, fill: color, fontFamily: FONT, fontSize: size, fontWeight: weight || 'normal',
      textAlign: align || 'center', textVerticalAlign: 'middle'
    }
  };
}
const UP = Math.PI / 2;
const graphics = [
  txt('(a)', 25, 15, '#222', 19, 'bold'),
  txt('(b)', 16, 288, '#222', 19, 'bold'),
  txt('(c)', 359, 288, '#222', 19, 'bold'),
  txt('−4.0', 52, 306.7, '#222', 11.8, 'bold'),
  txt('0.0', 113, 306.7, '#222', 11.8, 'bold'),
  txt('4.0', 176.7, 306.7, '#222', 11.8, 'bold'),
  txt('−2.5', 400, 306.7, '#222', 11.8, 'bold'),
  txt('0.0', 462.7, 306.7, '#222', 11.8, 'bold'),
  txt('2.5', 526, 306.7, '#222', 11.8, 'bold')
];
function headerBars(x0, x1, x2, yTop, yMid, yBot) {
  graphics.push({ type: 'rect', silent: true, shape: { x: x0, y: yMid, width: x1 - x0, height: yBot - yMid }, style: { fill: '#00ffff' } });
  graphics.push({ type: 'rect', silent: true, shape: { x: x1, y: yTop, width: x2 - x1, height: yMid - yTop }, style: { fill: '#ff00ff' } });
}
headerBars(37.3, 109.7, 181.7, 384.7, 394, 403);
headerBars(391.3, 462.3, 533.3, 383.7, 392.7, 402);

const sampleXB = [55, 77.3, 100, 126, 150, 171.7];
const sampleXC = [403.3, 426.7, 450, 475, 499.3, 521.7];
sampleLabels.forEach((s, i) => {
  graphics.push(txt(s, sampleXB[i], 360.5, i < 3 ? '#3cc0bb' : '#c030c0', 13, 'normal', UP));
  graphics.push(txt(s, sampleXC[i], 360.5, i < 3 ? '#2aa198' : '#a020a0', 13, 'normal', UP));
});
const annotTextColors = ['#000000', '#2222ff', '#777777', '#b5b500'];
const annotXB = [197.7, 221, 244.3, 266.7];
const annotXC = [547.7, 570.7, 594.3, 616];
annotationColumns.forEach((s, i) => {
  graphics.push(txt(s, annotXB[i], 410, annotTextColors[i], 11.4, 'normal', UP, 'left'));
  graphics.push(txt(s, annotXC[i], 400.7, annotTextColors[i], 11.4, 'normal', UP, 'left'));
});

const chart = echarts.init(document.getElementById('chart'), null, { renderer: 'canvas' });
chart.setOption({
  animation: false,
  backgroundColor: '#fff',
  tooltip: { show: false },
  grid: grids,
  xAxis: xAxes,
  yAxis: yAxes,
  visualMap: visualMaps,
  series: series,
  graphic: graphics
});
</script>
</body>
</html>
